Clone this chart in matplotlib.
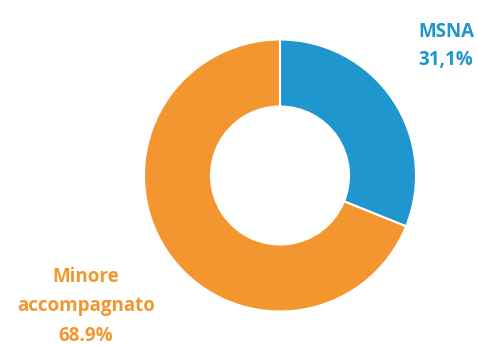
import matplotlib.pyplot as plt

categorie = ["MSNA", "Minore\naccompagnato"]
percentuali = [31.1, 68.9]
etichette_pct = ["31,1%", "68.9%"]
colori = ["#1F97CE", "#F3962F"]

fig = plt.figure(figsize=(4.78, 3.45), dpi=100)
ax = fig.add_axes([0, 0, 1, 1])
ax.set_xlim(0, 478)
ax.set_ylim(0, 345)
ax.set_aspect("equal")
ax.axis("off")

ax.pie(percentuali, colors=colori, startangle=90, counterclock=False,
       center=(280, 169.5), radius=136,
       wedgeprops=dict(width=67, edgecolor="white", linewidth=1.5))
ax.set_xlim(0, 478)
ax.set_ylim(0, 345)

font = dict(family="Open Sans", fontweight="bold", fontsize=13.5, ha="center", va="center")

# etichette
ax.text(446, 345 - 32, categorie[0], color=colori[0], **font)
ax.text(446, 345 - 60, etichette_pct[0], color=colori[0], **font)

righe = categorie[1].split("\n") + [etichette_pct[1]]
for i, r in enumerate(righe):
    ax.text(86, 345 - 277 - 29.5 * i, r, color=colori[1], **font)

fig.savefig("out.png", dpi=100)
